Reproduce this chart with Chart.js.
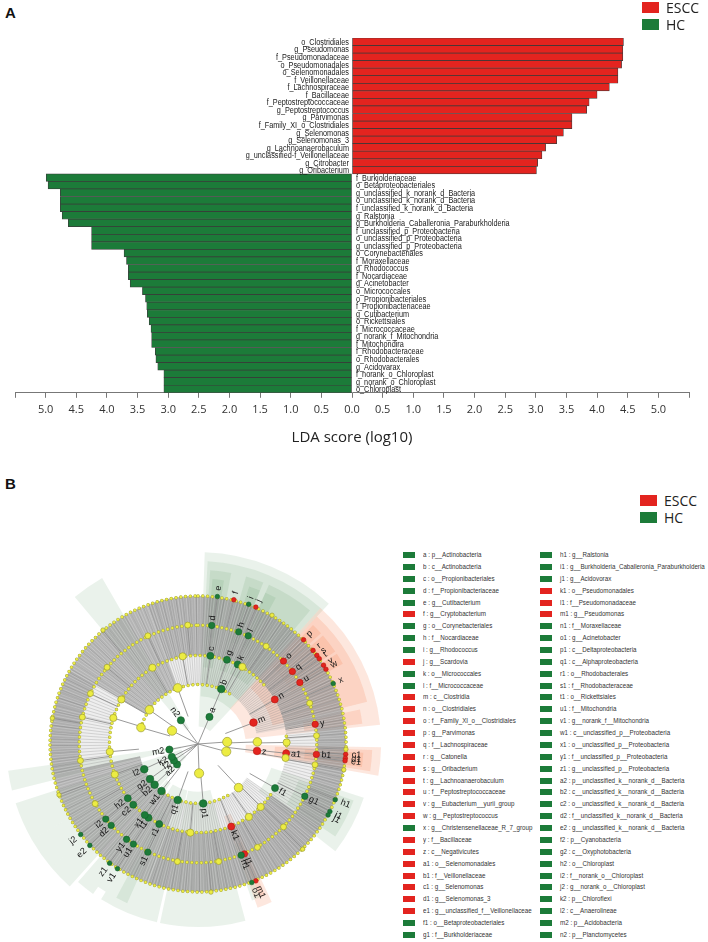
<!DOCTYPE html>
<html>
<head>
<meta charset="utf-8">
<script src="https://cdn.jsdelivr.net/npm/chart.js@4.4.1/dist/chart.umd.min.js"></script>
<style>
  body { margin: 0; width: 708px; height: 942px; position: relative; background: #fff; overflow: hidden; font-family: "Liberation Sans", Arial, sans-serif; }
  .tag { position: absolute; font: bold 15px "Liberation Sans", Arial, sans-serif; color: #111; }
  #chartA { position: absolute; left: 0; top: 0; }
  #chartB { position: absolute; left: 0; top: 455px; }
  .lg { position: absolute; font: 14px "Open Sans", sans-serif; color: #222; line-height: 16px; }
  .lg i { position: absolute; left: 0; top: 2px; width: 17px; height: 11px; }
  .lg b { font-weight: normal; position: absolute; left: 24px; top: 0; }
  .row { position: absolute; font-size: 7px; color: #333; white-space: nowrap; line-height: 8px; }
  .row i { position: absolute; left: 0; top: 1px; width: 12px; height: 6px; }
  .row span { position: absolute; left: 20px; top: 0; transform: scaleX(0.89); transform-origin: 0 50%; }
</style>
</head>
<body>
<div class="tag" style="left:5px;top:4px">A</div>
<div class="tag" style="left:5px;top:475px">B</div>
<canvas id="chartA" width="708" height="447"></canvas>
<canvas id="chartB" width="400" height="487"></canvas>
<div id="legendA"></div>
<div id="legendB"></div>
<div id="list"></div>

<script>
// ---- panel A : LDA scores ----
const esccTaxa = ["o_Clostridiales", "g_Pseudomonas", "f_Pseudomonadaceae", "o_Pseudomonadales",
  "o_Selenomonadales", "f_Veillonellaceae", "f_Lachnospiraceae", "f_Bacillaceae",
  "f_Peptostreptococcaceae", "g_Peptostreptococcus", "g_Parvimonas", "f_Family_XI_o_Clostridiales",
  "g_Selenomonas", "g_Selenomonas_3", "g_Lachnoanaerobaculum", "g_unclassified-f_Veillonellaceae",
  "g_Citrobacter", "g_Oribacterium"];
const esccLDA = [4.43, 4.42, 4.42, 4.40, 4.34, 4.34, 4.20, 4.00, 3.87, 3.83, 3.59, 3.59,
  3.45, 3.34, 3.16, 3.10, 3.03, 3.01];

const hcTaxa = ["f_Burkjolderiaceae", "o_Betaproteobacteriales", "g_unclassified_k_norank_d_Bacteria",
  "o_unclassified_k_norank_d_Bacteria", "f_unclassified_k_norank_d_Bacteria", "g_Ralstonia",
  "g_Burkholderia_Caballeronia_Paraburkholderia", "f_unclassified_p_Proteobacteria",
  "o_unclassified_p_Proteobacteria", "g_unclassified_p_Proteobacteria", "o_Corynebacteriales",
  "f_Moraxellaceae", "g_Rhodococcus", "f_Nocardiaceae", "g_Acinetobacter", "o_Micrococcales",
  "o_Propionibacteriales", "f_Propionibacteriaceae", "g_Cutibacterium", "o_Rickettsiales",
  "f_Micrococcaceae", "g_norank_f_Mitochondria", "f_Mitochondira", "f_Rhodobacteraceae",
  "o_Rhodobacterales", "g_Acidovarax", "f_norank_o_Chloroplast", "g_norank_o_Chloroplast", "o_Chloroplast"];
const hcLDA = [4.99, 4.96, 4.76, 4.76, 4.76, 4.73, 4.63, 4.25, 4.25, 4.25, 3.72, 3.68, 3.65, 3.65,
  3.62, 3.42, 3.37, 3.35, 3.34, 3.31, 3.28, 3.27, 3.27, 3.21, 3.20, 3.17, 3.07, 3.07, 3.07];

const groups = ["ESCC", "HC"];
const groupColors = ["#e3241f", "#1c7b39"];
const ldaMin = -5.5, ldaMax = 5.5, ldaStep = 0.5;

// ---- panel B : cladogram ----
const nodeKey = ["a","b","c","d","e","f","g","h","i","j","k","l","m","n","o","p","q","r","s","t","u","v","w","x","y","z",
  "a1","b1","c1","d1","e1","f1","g1","h1","i1","j1","k1","l1","m1","n1","o1","p1","q1","r1","s1","t1","u1","v1","w1","x1","y1","z1",
  "a2","b2","c2","d2","e2","f2","g2","h2","i2","j2","k2","l2","m2","n2"];
const nodeTaxon = ["p__Actinobacteria","c__Actinobacteria","o__Propionibacteriales","f__Propionibacteriaceae","g__Cutibacterium",
  "g__Cryptobacterium","o__Corynebacteriales","f__Nocardiaceae","g__Rhodococcus","g__Scardovia","o__Micrococcales",
  "f__Micrococcaceae","c__Clostridia","o__Clostridiales","f__Family_XI_o__Clostridiales","g__Parvimonas",
  "f__Lachnospiraceae","g__Catonella","g__Oribacterium","g__Lachnoanaerobaculum","f__Peptostreptococcaceae",
  "g__Eubacterium__yurii_group","g__Peptostreptococcus","g__Christensenellaceae_R_7_group","f__Bacillaceae",
  "c__Negativicutes","o__Selenomonadales","f__Veillonellaceae","g__Selenomonas","g__Selenomonas_3",
  "g__unclassified_f__Veillonellaceae","o__Betaproteobacteriales","f__Burkholderiaceae","g__Ralstonia",
  "g__Burkholderia_Caballeronia_Paraburkholderia","g__Acidovorax","o__Pseudomonadales","f__Pseudomonadaceae",
  "g__Pseudomonas","f__Moraxellaceae","g__Acinetobacter","c__Deltaproteobacteria","c__Alphaproteobacteria",
  "o__Rhodobacterales","f__Rhodobacteraceae","o__Rickettsiales","f__Mitochondria","g__norank_f__Mitochondria",
  "c__unclassified_p__Proteobacteria","o__unclassified_p__Proteobacteria","f__unclassified_p__Proteobacteria",
  "g__unclassified_p__Proteobacteria","p__unclassified_k__norank_d__Bacteria","c__unclassified_k__norank_d__Bacteria",
  "o__unclassified_k__norank_d__Bacteria","f__unclassified_k__norank_d__Bacteria","g__unclassified_k__norank_d__Bacteria",
  "p__Cyanobacteria","c__Oxyphotobacteria","o__Chloroplast","f__norank_o__Chloroplast","g__norank_o__Chloroplast",
  "p__Chloroflexi","c__Anaerolineae","p__Acidobacteria","p__Planctomycetes"];
const nodeGroup = ["HC","HC","HC","HC","HC","ESCC","HC","HC","HC","ESCC","HC","HC","ESCC","ESCC","ESCC","ESCC",
  "ESCC","ESCC","ESCC","ESCC","ESCC","ESCC","ESCC","HC","ESCC","ESCC","ESCC","ESCC","ESCC","ESCC","ESCC",
  "HC","HC","HC","HC","HC","ESCC","ESCC","ESCC","HC","HC","HC","HC","HC","HC","HC","HC","HC","HC","HC","HC","HC",
  "HC","HC","HC","HC","HC","HC","HC","HC","HC","HC","HC","HC","HC","HC"];
const nodeLevel = [1,2,3,4,5,5,3,4,5,5,3,4,2,3,4,5,4,5,5,5,4,5,5,5,4,2,
  3,4,5,5,5,3,4,5,5,5,3,4,5,4,5,2,2,3,4,3,4,5,2,3,4,5,
  1,2,3,4,5,1,2,3,4,5,1,2,1,1];
const nodeAngle = [23,23,8,6.6,7.5,14,19,20,20,23,26.6,25,69,60,46,45.5,52.6,51,53.4,55,59,58,59.8,66,80.5,96.7,
  96,95,94,95.5,96.5,119.7,116,112,117,118.5,158,157,157,158.7,158.7,175,200,206,205,214,213,213,218,217,217,216.7,
  226,227,227,227,227,236,234,232.5,231,232.5,244,245,259,324];

// highlighted clades (shaded wedges), degrees clockwise from top
const shadeKey  = ["a","b","c","d","g","h","k","l","m","n","o","q","u","y","z","a1","b1","f1","g1","k1","l1","n1","p1","q1","r1","t1","w1","a2","f2","k2","m2","n2"];
const shadeFrom = [2,  3,  4,  5,  16, 18, 24, 24, 42, 43, 44, 49, 57, 78, 91, 92, 93, 108,110,155,156,158,165,193,204,212,215,222,230,240,256,320];
const shadeTo   = [43, 42, 11, 9,  22, 22, 40, 28, 84, 76, 48, 56, 61, 83, 100,99, 98, 128,124,160,158,161,192,212,208,215,221,230,240,252,262,330];

// other (non-discriminant) taxa drawn as yellow nodes
const otherLevel = [1,1,1,1, 2,2,2,2,2, 3,3,3,3,3,3,3,3,3,3,3,3, 4,4,4,4,4,4,4,4,4,4,4,4,4,4,4, 5,5,5,5,5,5,5,5];
const otherAngle = [86,105,178,297, 88,137,286,305,340, 89,99,135,287,300,329,350,30,145,185,250,265,
  86,100,134,283,295,310,335,355,35,70,150,170,190,240,262, 92,135,30,100,175,250,280,320];

// dense leaf fans: inner rank where the fan starts, angular span
const fanLevel = [2,  3,  3,  4,  4,  3,  2,  4];
const fanFrom  = [300,340,45, 80, 100,125,200,258];
const fanTo    = [340,405,80, 100,125,200,258,300];
// sparse fans
const thinLevel = [2,  2,  3,  3,  3,  2];
const thinFrom  = [340,45, 80, 258,100,125];
const thinTo    = [405,80, 100,300,125,200];
// arcs of small yellow nodes on each rank ring
const beadLevel = [5, 4,  3,  3,  2,  2];
const beadFrom  = [0, 0,  125,85, 150,290];
const beadTo    = [360,360,410,100,215,395];

// ---------------- chart A ----------------
const taxaAll = esccTaxa.concat(hcTaxa);
const esccData = esccLDA.concat(hcTaxa.map(() => null));
const hcData = esccTaxa.map(() => null).concat(hcLDA.map(v => -v));

const barNames = {
  id: "barNames",
  afterDatasetsDraw(chart) {
    const ctx = chart.ctx;
    const zero = chart.scales.x.getPixelForValue(0);
    ctx.save();
    ctx.fillStyle = "#1a1a1a";
    ctx.font = '9.6px "Liberation Sans", Arial, sans-serif';
    ctx.textBaseline = "middle";
    chart.data.datasets.forEach((ds, di) => {
      chart.getDatasetMeta(di).data.forEach((bar, i) => {
        if (ds.data[i] === null) return;
        ctx.save();
        ctx.translate(di === 0 ? zero - 3 : zero + 4, bar.y + 0.5);
        ctx.scale(0.76, 1);
        ctx.textAlign = di === 0 ? "right" : "left";
        ctx.fillText(taxaAll[i], 0, 0);
        ctx.restore();
      });
    });
    ctx.restore();
  }
};

new Chart(document.getElementById("chartA"), {
  type: "bar",
  data: {
    labels: taxaAll,
    datasets: [
      { label: groups[0], data: esccData, backgroundColor: groupColors[0] },
      { label: groups[1], data: hcData, backgroundColor: groupColors[1] }
    ]
  },
  options: {
    indexAxis: "y",
    responsive: false,
    animation: false,
    events: [],
    layout: { padding: { left: 15, right: 19, top: 38, bottom: 0 } },
    datasets: {
      bar: {
        grouped: false, categoryPercentage: 1, barPercentage: 1,
        borderColor: "#3a3a3a", borderWidth: 0.7, borderSkipped: false
      }
    },
    plugins: { legend: { display: false }, tooltip: { enabled: false } },
    scales: {
      y: { display: false, offset: true },
      x: {
        min: ldaMin, max: ldaMax,
        border: { color: "#777", width: 1 },
        grid: { drawOnChartArea: false, tickLength: 5, color: "#777" },
        ticks: {
          stepSize: ldaStep, padding: 5, color: "#333",
          font: { family: "Open Sans", size: 11 },
          autoSkip: false, maxRotation: 0,
          callback: v => Math.abs(v) > 5.01 ? "" : Math.abs(v).toFixed(1)
        },
        title: {
          display: true, text: "LDA score (log10)", color: "#222",
          font: { family: "Open Sans", size: 15 }, padding: { top: 8, bottom: 0 }
        }
      }
    }
  },
  plugins: [barNames]
});

// legends
function makeLegend(el, left, top) {
  groups.forEach((g, i) => {
    const d = document.createElement("div");
    d.className = "lg";
    d.style.left = left + "px";
    d.style.top = (top + i * 17) + "px";
    d.innerHTML = '<i style="background:' + groupColors[i] + '"></i><b>' + g + "</b>";
    el.appendChild(d);
  });
}
makeLegend(document.getElementById("legendA"), 642, 0);
makeLegend(document.getElementById("legendB"), 640, 493);

// ---------------- chart B ----------------
const RING = [0, 30, 61, 91, 122, 152];
const SHADE_OUT = [0, 197, 188, 179, 170, 161];
const NODE_R = [0, 3.6, 3.8, 3.5, 3.2, 2.3];
const OTHER_R = [0, 4.6, 4.3, 3.6, 3.0, 2.2];
const polar = (lvl, ang) => ({
  x: RING[lvl] * Math.sin(ang * Math.PI / 180),
  y: RING[lvl] * Math.cos(ang * Math.PI / 180),
  level: lvl
});
const groupColor = g => groupColors[groups.indexOf(g)];

const cladeBack = {
  id: "cladeBack",
  beforeDatasetsDraw(chart) {
    const { ctx, scales: { x, y } } = chart;
    const cx = x.getPixelForValue(0), cy = y.getPixelForValue(0);
    const px = r => x.getPixelForValue(r) - cx;
    const rad = d => (d - 90) * Math.PI / 180;
    const wedge = (r0, r1, a0, a1) => {
      ctx.beginPath();
      ctx.arc(cx, cy, px(r1), rad(a0), rad(a1));
      ctx.arc(cx, cy, px(r0), rad(a1), rad(a0), true);
      ctx.closePath();
    };
    const spokes = (r0, r1, a0, a1, step) => {
      ctx.beginPath();
      for (let a = a0; a <= a1; a += step) {
        ctx.moveTo(cx + px(r0) * Math.cos(rad(a)), cy + px(r0) * Math.sin(rad(a)));
        ctx.lineTo(cx + px(r1) * Math.cos(rad(a)), cy + px(r1) * Math.sin(rad(a)));
      }
      ctx.stroke();
    };
    ctx.save();
    // shaded clades
    shadeKey.forEach((k, i) => {
      const n = nodeKey.indexOf(k);
      const lvl = nodeLevel[n];
      wedge(Math.max(RING[lvl] - 12, 4), SHADE_OUT[lvl], shadeFrom[i], shadeTo[i]);
      ctx.fillStyle = nodeGroup[n] === "ESCC" ? "rgba(243,112,60,0.17)" : "rgba(45,125,60,0.10)";
      ctx.fill();
    });
    // sparse fans
    thinLevel.forEach((lvl, i) => {
      wedge(RING[lvl], RING[5], thinFrom[i], thinTo[i]);
      ctx.fillStyle = "rgba(170,170,170,0.2)";
      ctx.fill();
      ctx.strokeStyle = "rgba(130,130,130,0.55)";
      ctx.lineWidth = 0.5;
      spokes(RING[lvl], RING[5], thinFrom[i], thinTo[i], 1.6);
    });
    // dense fans
    fanLevel.forEach((lvl, i) => {
      wedge(RING[lvl], RING[5], fanFrom[i], fanTo[i]);
      ctx.fillStyle = "rgba(145,145,145,0.68)";
      ctx.fill();
      ctx.strokeStyle = "rgba(245,245,245,0.6)";
      ctx.lineWidth = 0.45;
      spokes(RING[lvl], RING[5], fanFrom[i], fanTo[i], 1.1);
      ctx.strokeStyle = "rgba(115,115,115,0.55)";
      spokes(RING[lvl], RING[5], fanFrom[i] + 0.5, fanTo[i], 2.7);
    });
    // branches
    ctx.strokeStyle = "#8d8d8d";
    ctx.lineWidth = 0.9;
    const branch = (lvl, ang) => {
      ctx.beginPath();
      ctx.moveTo(cx + px(RING[lvl - 1]) * Math.cos(rad(ang)), cy + px(RING[lvl - 1]) * Math.sin(rad(ang)));
      ctx.lineTo(cx + px(RING[lvl]) * Math.cos(rad(ang)), cy + px(RING[lvl]) * Math.sin(rad(ang)));
      ctx.stroke();
    };
    nodeLevel.forEach((l, i) => branch(l, nodeAngle[i]));
    otherLevel.forEach((l, i) => branch(l, otherAngle[i]));
    // rings of small yellow nodes
    ctx.lineCap = "round";
    beadLevel.forEach((lvl, i) => {
      ctx.setLineDash([0, 4.8]);
      ctx.beginPath();
      ctx.arc(cx, cy, px(RING[lvl]), rad(beadFrom[i]), rad(beadTo[i]));
      ctx.strokeStyle = "#a4a438";
      ctx.lineWidth = 3.5;
      ctx.stroke();
      ctx.strokeStyle = "#ecec46";
      ctx.lineWidth = 2.5;
      ctx.stroke();
    });
    ctx.restore();
  },
  afterDatasetsDraw(chart) {
    const { ctx, scales: { x, y } } = chart;
    ctx.save();
    ctx.font = '9px "Liberation Sans", Arial, sans-serif';
    ctx.fillStyle = "#151515";
    ctx.textBaseline = "middle";
    nodeKey.forEach((k, i) => {
      const p = polar(nodeLevel[i], nodeAngle[i]);
      const nx = x.getPixelForValue(p.x), ny = y.getPixelForValue(p.y);
      const off = nodeLevel[i] === 5 ? 6 : 5;
      ctx.save();
      ctx.translate(nx, ny);
      ctx.rotate((nodeAngle[i] - 90) * Math.PI / 180);
      if (nodeAngle[i] > 180) {
        ctx.rotate(Math.PI);
        ctx.textAlign = "right";
        ctx.fillText(k, -off, 0);
      } else {
        ctx.textAlign = "left";
        ctx.fillText(k, off, 0);
      }
      ctx.restore();
    });
    ctx.restore();
  }
};

const otherPts = otherLevel.map((l, i) => polar(l, otherAngle[i]));
const esccPts = [], hcPts = [];
nodeKey.forEach((k, i) => {
  (nodeGroup[i] === "ESCC" ? esccPts : hcPts).push(polar(nodeLevel[i], nodeAngle[i]));
});

new Chart(document.getElementById("chartB"), {
  type: "scatter",
  data: {
    datasets: [
      { label: "other", data: otherPts, backgroundColor: "#ecec42", borderColor: "#9d9d34", borderWidth: 0.7,
        pointRadius: c => OTHER_R[c.raw.level] },
      { label: "HC", data: hcPts, backgroundColor: groupColor("HC"), borderColor: "#14602b", borderWidth: 0.6,
        pointRadius: c => NODE_R[c.raw.level] },
      { label: "ESCC", data: esccPts, backgroundColor: groupColor("ESCC"), borderColor: "#b5150f", borderWidth: 0.6,
        pointRadius: c => NODE_R[c.raw.level] }
    ]
  },
  options: {
    responsive: false,
    animation: false,
    events: [],
    layout: { padding: 0 },
    plugins: { legend: { display: false }, tooltip: { enabled: false } },
    scales: {
      x: { type: "linear", display: false, min: -198, max: 202 },
      y: { type: "linear", display: false, min: -197, max: 290 }
    }
  },
  plugins: [cladeBack]
});

// key list of the cladogram letters
const list = document.getElementById("list");
nodeKey.forEach((k, i) => {
  const col = i < 33 ? 0 : 1;
  const row = i % 33;
  const d = document.createElement("div");
  d.className = "row";
  d.style.left = (col === 0 ? 403 : 540) + "px";
  d.style.top = (551 + row * 11.87).toFixed(1) + "px";
  d.innerHTML = '<i style="background:' + groupColor(nodeGroup[i]) + '"></i><span>' + k + " : " + nodeTaxon[i] + "</span>";
  list.appendChild(d);
});
</script>
</body>
</html>
